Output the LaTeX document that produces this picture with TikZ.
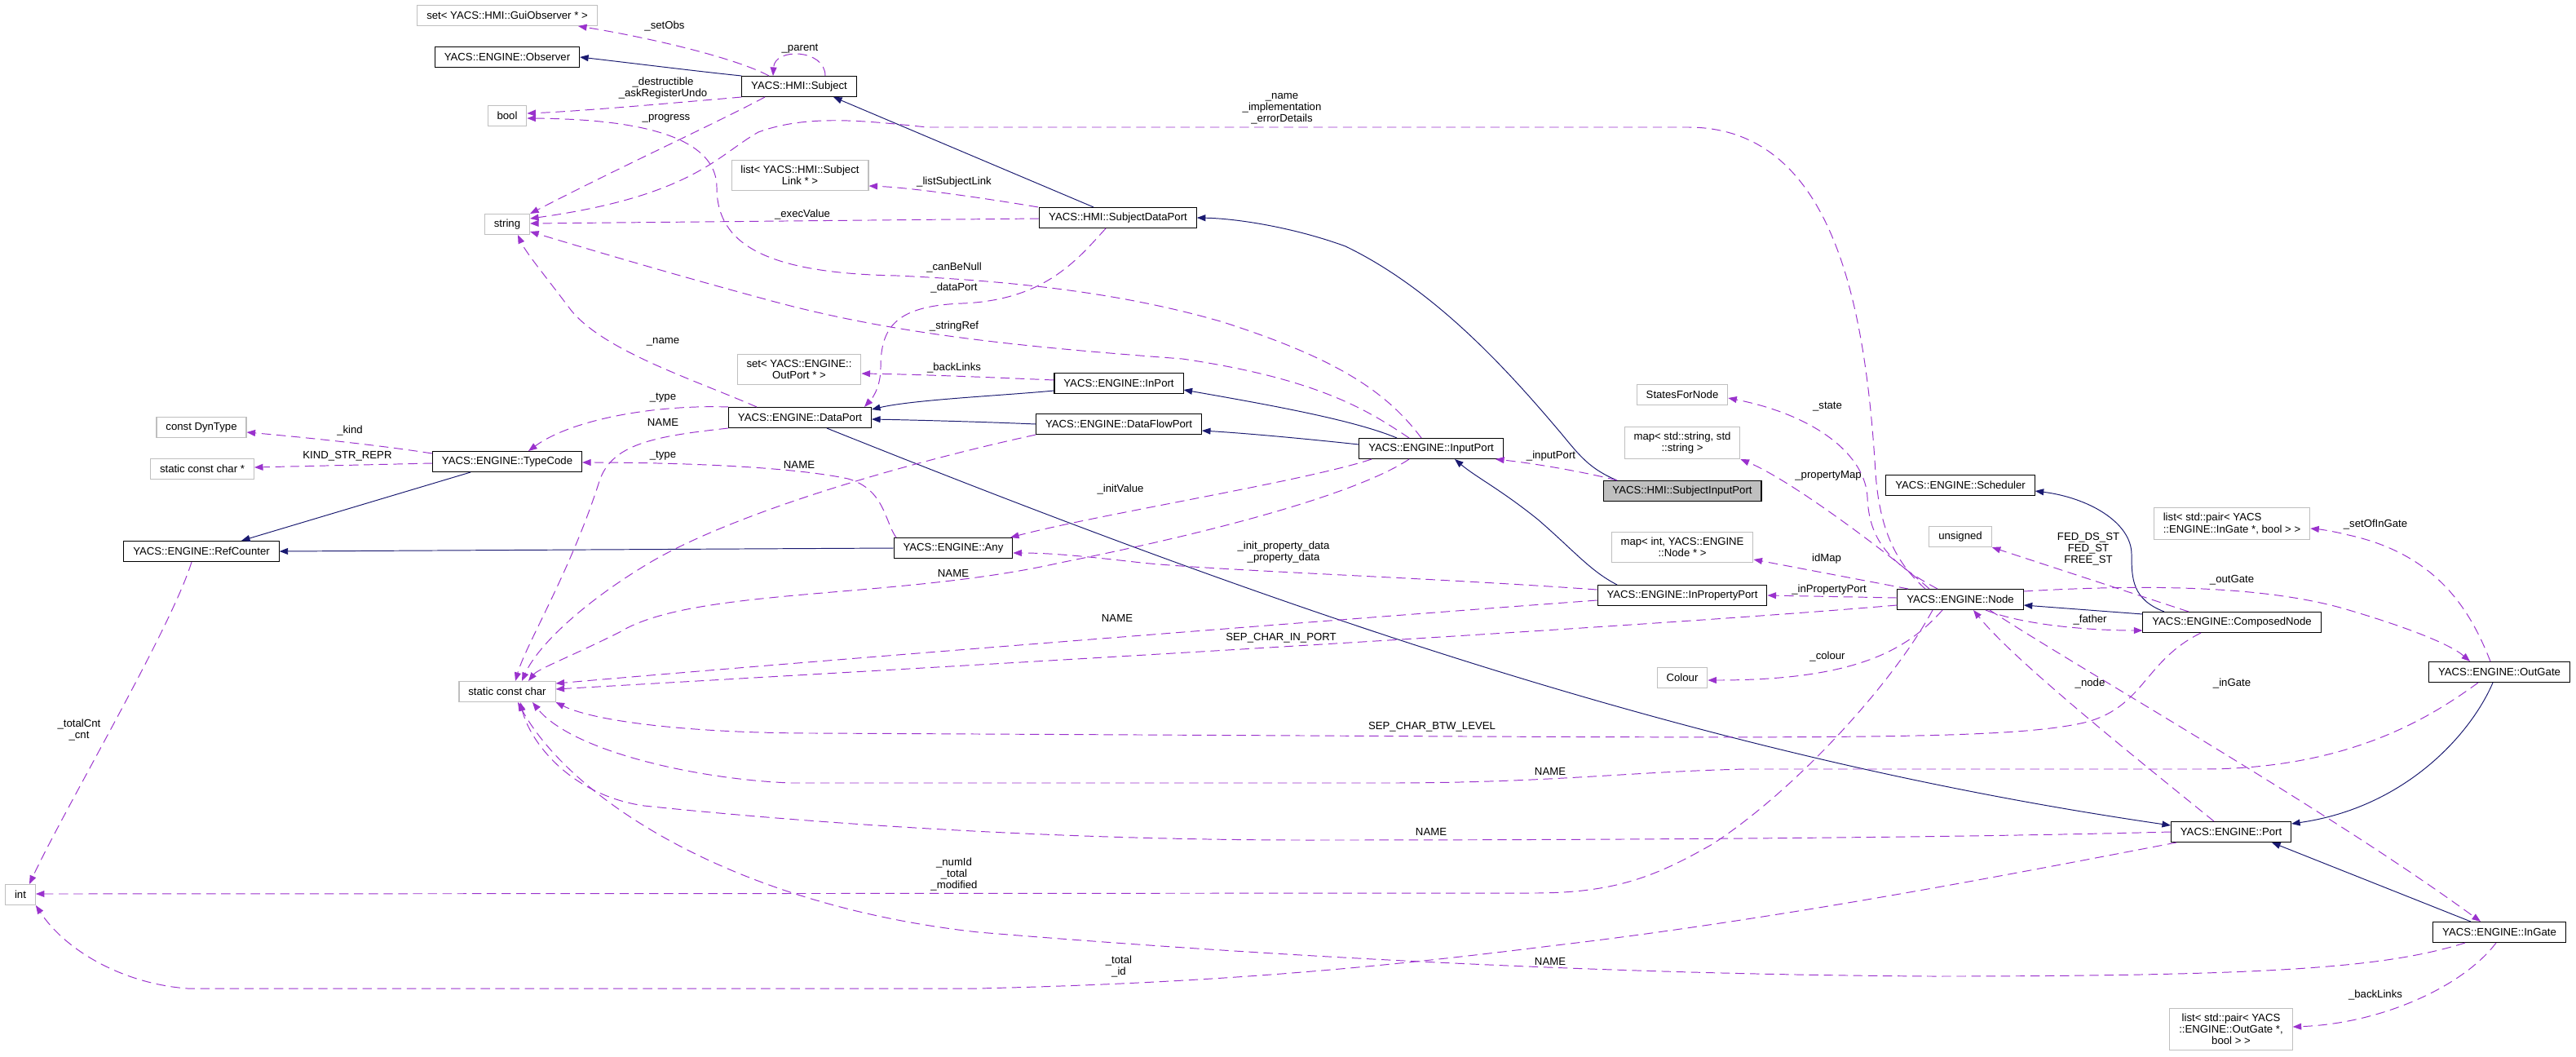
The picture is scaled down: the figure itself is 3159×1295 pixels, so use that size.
\documentclass[tikz,border=0pt]{standalone}
\usepackage{fontspec}
\setmainfont{Liberation Sans}
\usetikzlibrary{arrows.meta}
\definecolor{inherit}{HTML}{191970}
\definecolor{usage}{HTML}{9A32CD}
\definecolor{ghost}{HTML}{BFBFBF}
\definecolor{focus}{HTML}{BFBFBF}
\tikzset{
  font=\fontsize{7.5}{8.1}\selectfont,
  %
  cls/.style={draw=black, line width=0.6pt, fill=white, inner xsep=6.5pt,
              inner ysep=3.6pt, minimum height=0.5cm, align=center, text=black},
  ext/.style={cls, draw=ghost},
  cur/.style={cls, fill=focus},
  %
  inh/.style={draw=inherit, line width=0.55pt, -{Triangle[length=6pt, width=4.5pt]}},
  dep/.style={draw=usage, line width=0.55pt, dash pattern=on 6.5pt off 3.8pt,
              -{Triangle[length=6pt, width=4.5pt]}},
  %
  lbl/.style={inner sep=0pt, align=center, text=black},
}

\begin{document}
\begin{tikzpicture}[x=0.02cm, y=-0.02cm]

  \fill[white] (0,0) rectangle (3159,1295);
  \useasboundingbox (0,0) rectangle (3159,1295);

  % =======================================================================
  % classes and types
  % =======================================================================
  \node[ext] (guiobs)     at (622,19)   {set< YACS::HMI::GuiObserver * >};
  \node[cls] (observer)   at (622,70)   {YACS::ENGINE::Observer};
  \node[ext] (tbool)      at (622,142)  {bool};
  \node[ext] (tstring)    at (622,275)  {string};
  \node[cls] (subject)    at (980,106)  {YACS::HMI::Subject};
  \node[ext] (sublink)    at (981,215)  {list< YACS::HMI::Subject\\Link * >};
  \node[cls] (sdp)        at (1371,267) {YACS::HMI::SubjectDataPort};
  \node[ext] (outportset) at (980,453)  {set< YACS::ENGINE::\\OutPort * >};
  \node[cls] (inport)     at (1372,470) {YACS::ENGINE::InPort};
  \node[cls] (dataport)   at (981,512)  {YACS::ENGINE::DataPort};
  \node[cls] (dataflow)   at (1372,520) {YACS::ENGINE::DataFlowPort};
  \node[cls] (any)        at (1169,672) {YACS::ENGINE::Any};
  \node[ext] (dyntype)    at (247,524)  {const DynType};
  \node[ext] (kindrepr)   at (248,575)  {static const char *};
  \node[cls] (typecode)   at (622,566)  {YACS::ENGINE::TypeCode};
  \node[cls] (refcounter) at (247,676)  {YACS::ENGINE::RefCounter};
  \node[ext] (scc)        at (622,848)  {static const char};
  \node[ext] (tint)       at (25,1097)  {int};
  \node[ext] (states)     at (2063,484) {StatesForNode};
  \node[ext] (propmap)    at (2063,543) {map< std::string, std\\::string >};
  \node[cls] (inputport)  at (1755,550) {YACS::ENGINE::InputPort};
  \node[cur] (sip)        at (2063,602) {YACS::HMI::SubjectInputPort};
  \node[ext] (idmap)      at (2063,671) {map< int, YACS::ENGINE\\::Node * >};
  \node[cls] (inprop)     at (2063,730) {YACS::ENGINE::InPropertyPort};
  \node[ext] (colour)     at (2063,831) {Colour};
  \node[cls] (scheduler)  at (2404,595) {YACS::ENGINE::Scheduler};
  \node[ext] (tunsigned)  at (2404,658) {unsigned};
  \node[cls] (enode)      at (2404,735) {YACS::ENGINE::Node};
  \node[ext, align=left] (ingateset) at (2737,642)
    {list< std::pair< YACS\\::ENGINE::InGate *, bool > >};
  \node[cls] (composed)   at (2737,763) {YACS::ENGINE::ComposedNode};
  \node[cls] (outgate)    at (3065,824) {YACS::ENGINE::OutGate};
  \node[cls] (port)       at (2736,1020) {YACS::ENGINE::Port};
  \node[cls] (ingate)     at (3065,1143) {YACS::ENGINE::InGate};
  \node[ext] (outgatelist) at (2736,1262)
    {list< std::pair< YACS\\::ENGINE::OutGate *,\\bool > >};

  % =======================================================================
  % inheritance
  % =======================================================================
  \draw[inh] (1983,0 |- sip.north) .. controls (1950,575) and (1938,560) .. (1915,532)
    .. controls (1850,455) and (1760,355) .. (1650,302)
    .. controls (1590,280) and (1520,268) .. (sdp.east);
  \draw[inh] (1341,0 |- sdp.north) -- (1022,0 |- subject.south);
  \draw[inh] (subject.north west) .. controls (860,88) and (780,78) .. (observer.east);
  \draw[inh] (1713,0 |- inputport.north) .. controls (1660,515) and (1560,497) .. (inport.east |- 0,478);
  \draw[inh] (inputport.west |- 0,545) .. controls (1620,540) and (1540,532) .. (dataflow.east |- 0,528);
  \draw[inh] (inport.west |- 0,479) .. controls (1230,485) and (1120,490) .. (dataport.east |- 0,502);
  \draw[inh] (dataflow.west) .. controls (1200,517) and (1120,515) .. (dataport.east |- 0,514);
  \draw[inh] (1983,0 |- inprop.north) .. controls (1950,700) and (1930,675) .. (1886,637)
    .. controls (1840,600) and (1810,585) .. (1784,0 |- inputport.south);
  \draw[inh] (577,0 |- typecode.south) -- (296,0 |- refcounter.north);
  \draw[inh] (any.west) -- (refcounter.east |- 0,676);
  \draw[inh] (composed.west |- 0,753) -- (enode.east |- 0,742);
  \draw[inh] (2654,0 |- composed.north) .. controls (2615,735) and (2614,710) .. (2614,680)
    .. controls (2614,640) and (2560,610) .. (scheduler.east |- 0,602);
  \draw[inh] (1014,0 |- dataport.south) .. controls (1600,760) and (2100,930) .. (port.west |- 0,1012);
  \draw[inh] (3057,0 |- outgate.south) .. controls (3030,900) and (2950,990) .. (port.east |- 0,1010);
  \draw[inh] (3030,0 |- ingate.north) -- (2786,0 |- port.south);

  % =======================================================================
  % usage
  % =======================================================================
  \draw[dep] (1983,0 |- sip.north) .. controls (1940,578) and (1880,568) .. (1834,0 |- inputport.south);
  \draw[dep] (1273,0 |- sdp.north) .. controls (1220,245) and (1120,230) .. (sublink.east |- 0,228);
  \draw[dep] (sdp.west |- 0,268) -- (tstring.east |- 0,274);
  \draw[dep] (1356,0 |- sdp.south) .. controls (1320,320) and (1280,368) .. (1180,372)
    .. controls (1100,375) and (1080,400) .. (1080,450)
    .. controls (1080,475) and (1070,488) .. (1060,0 |- dataport.north);
  \draw[dep] (943,0 |- subject.north) .. controls (900,70) and (790,45) .. (709,0 |- guiobs.south);
  \draw[dep] (1012,0 |- subject.north) .. controls (1012,60) and (950,58) .. (948,0 |- subject.north);
  \draw[dep] (subject.south west) .. controls (850,124) and (720,136) .. (tbool.east |- 0,139);
  \draw[dep] (938,0 |- subject.south) .. controls (880,150) and (760,205) .. (tstring.north east);
  \draw[dep] (1743,0 |- inputport.north) .. controls (1700,480) and (1640,440) .. (1500,395)
    .. controls (1380,360) and (1250,345) .. (1100,338)
    .. controls (940,335) and (879,300) .. (879,230)
    .. controls (879,160) and (760,146) .. (tbool.east |- 0,145);
  \draw[dep] (2361,0 |- enode.north) .. controls (2325,690) and (2305,650) .. (2300,580)
    .. controls (2288,380) and (2250,156) .. (2070,156) -- (1137,156)
    .. controls (1060,148) and (990,140) .. (930,162)
    .. controls (880,190) and (850,240) .. (tstring.east |- 0,268);
  \draw[dep] (1728,0 |- inputport.north) .. controls (1680,505) and (1620,465) .. (1450,440)
    .. controls (1250,425) and (1100,410) .. (950,370)
    .. controls (820,335) and (720,305) .. (tstring.east |- 0,284);
  \draw[dep] (928,0 |- dataport.north) .. controls (850,465) and (740,430) .. (700,380)
    .. controls (670,340) and (645,310) .. (635,0 |- tstring.south);
  \draw[dep] (inport.west |- 0,466) .. controls (1200,462) and (1120,459) .. (outportset.east |- 0,458);
  \draw[dep] (dataport.north west) .. controls (800,496) and (700,515) .. (648,0 |- typecode.north);
  \draw[dep] (1099,0 |- any.north) .. controls (1085,640) and (1085,600) .. (1040,587)
    .. controls (960,570) and (800,567) .. (typecode.east |- 0,567);
  \draw[dep] (dataport.south west) .. controls (800,535) and (750,545) .. (735,590)
    .. controls (700,700) and (645,790) .. (632,0 |- scc.north);
  \draw[dep] (dataflow.south west) .. controls (1100,570) and (900,630) .. (800,688)
    .. controls (720,735) and (660,790) .. (640,0 |- scc.north);
  \draw[dep] (1728,0 |- inputport.south) .. controls (1680,595) and (1550,640) .. (1300,690)
    .. controls (1100,735) and (850,720) .. (760,775)
    .. controls (700,805) and (660,820) .. (648,0 |- scc.north);
  \draw[dep] (1682,0 |- inputport.south) .. controls (1600,590) and (1350,630) .. (1239,0 |- any.north);
  \draw[dep] (inprop.west |- 0,723) .. controls (1750,708) and (1500,700) .. (1400,690)
    .. controls (1330,682) and (1290,678) .. (any.east |- 0,678);
  \draw[dep] (inprop.west |- 0,736) .. controls (1700,755) and (1000,810) .. (scc.east |- 0,838);
  \draw[dep] (enode.west |- 0,742) .. controls (2000,770) and (1200,815) .. (scc.east |- 0,845);
  \draw[dep] (enode.west |- 0,733) -- (inprop.east |- 0,730);
  \draw[dep] (2340,0 |- enode.north) -- (idmap.east |- 0,686);
  \draw[dep] (2366,0 |- enode.north) .. controls (2330,690) and (2200,590) .. (propmap.south east);
  \draw[dep] (2376,0 |- enode.north) .. controls (2315,690) and (2292,660) .. (2290,610)
    .. controls (2288,560) and (2230,510) .. (states.east |- 0,488);
  \draw[dep] (2382,0 |- enode.south) .. controls (2340,795) and (2280,834) .. (colour.east |- 0,834);
  \draw[dep] (2435,0 |- enode.south) .. controls (2480,766) and (2560,773) .. (composed.west |- 0,773);
  \draw[dep] (2684,0 |- composed.north) -- (tunsigned.south east);
  \draw[dep] (enode.east |- 0,725) .. controls (2600,718) and (2760,715) .. (2870,745)
    .. controls (2950,768) and (3005,790) .. (3029,0 |- outgate.north);
  \draw[dep] (3054,0 |- outgate.north) .. controls (3030,750) and (2990,680) .. (2880,656)
    .. controls (2860,651) and (2845,649) .. (ingateset.east |- 0,648);
  \draw[dep] (2440,0 |- enode.south) .. controls (2550,820) and (2850,990) .. (3042,0 |- ingate.north);
  \draw[dep] (2715,0 |- port.north) .. controls (2620,930) and (2470,810) .. (2420,0 |- enode.south);
  \draw[dep] (3061,0 |- ingate.south) .. controls (3020,1210) and (2920,1255) .. (outgatelist.east |- 0,1259);
  \draw[dep] (2699,0 |- composed.south) .. controls (2630,810) and (2630,865) .. (2560,885)
    .. controls (2480,905) and (2300,905) .. (1800,903) -- (1000,899)
    .. controls (850,899) and (730,885) .. (scc.south east);
  \draw[dep] (3039,0 |- outgate.south) .. controls (2980,880) and (2880,943) .. (2700,943) -- (2141,943)
    .. controls (2000,946) and (1900,960) .. (1700,960) -- (969,960)
    .. controls (850,955) and (700,920) .. (653,0 |- scc.south);
  \draw[dep] (port.west |- 0,1020) .. controls (2400,1027) and (2000,1030) .. (1600,1030)
    .. controls (1300,1030) and (1000,1010) .. (790,988)
    .. controls (700,975) and (650,910) .. (638,0 |- scc.south);
  \draw[dep] (3023,0 |- ingate.south) .. controls (2930,1185) and (2800,1197) .. (2370,1197)
    .. controls (2000,1195) and (1600,1176) .. (1200,1143)
    .. controls (900,1110) and (700,980) .. (635,0 |- scc.south);
  \draw[dep] (2370,0 |- enode.south) .. controls (2320,840) and (2200,970) .. (2100,1035)
    .. controls (2030,1075) and (1980,1095) .. (1880,1095) -- (tint.east |- 0,1096);
  \draw[dep] (2669,0 |- port.south) .. controls (2500,1065) and (2200,1125) .. (1900,1160)
    .. controls (1700,1185) and (1500,1205) .. (1198,1212) -- (230,1212)
    .. controls (150,1206) and (80,1165) .. (tint.south east);
  \draw[dep] (235,0 |- refcounter.south) .. controls (210,770) and (80,990) .. (36,0 |- tint.north);
  \draw[dep] (typecode.west |- 0,556) .. controls (460,545) and (360,535) .. (dyntype.east |- 0,530);
  \draw[dep] (typecode.west |- 0,568) -- (kindrepr.east |- 0,573);

  % =======================================================================
  % edge labels
  % =======================================================================
  \node[lbl] (lsetobs)     at (815,32)   {\_setObs};
  \node[lbl] (lparent)     at (981,60)   {\_parent};
  \node[lbl] (ldestr)      at (813,108)  {\_destructible\\\_askRegisterUndo};
  \node[lbl] (lprogress)   at (817,145)  {\_progress};
  \node[lbl] (lnameimpl)   at (1572,133) {\_name\\\_implementation\\\_errorDetails};
  \node[lbl] (llistlink)   at (1170,223) {\_listSubjectLink};
  \node[lbl] (lexec)       at (984,263)  {\_execValue};
  \node[lbl] (lcanbenull)  at (1170,328) {\_canBeNull};
  \node[lbl] (ldataport)   at (1170,353) {\_dataPort};
  \node[lbl] (lstringref)  at (1170,400) {\_stringRef};
  \node[lbl] (lname)       at (813,419)  {\_name};
  \node[lbl] (lbacklinks)  at (1170,451) {\_backLinks};
  \node[lbl] (ltype)       at (813,488)  {\_type};
  \node[lbl] (lnamedp)     at (813,518)  {NAME};
  \node[lbl] (ltypeany)    at (813,559)  {\_type};
  \node[lbl] (lnamedf)     at (980,570)  {NAME};
  \node[lbl] (lkind)       at (429,528)  {\_kind};
  \node[lbl] (lkindrepr)   at (426,559)  {KIND\_STR\_REPR};
  \node[lbl] (linitvalue)  at (1374,600) {\_initValue};
  \node[lbl] (linitprop)   at (1574,677) {\_init\_property\_data\\\_property\_data};
  \node[lbl] (lnameip)     at (1169,703) {NAME};
  \node[lbl] (lnameipp)    at (1370,758) {NAME};
  \node[lbl] (lsepport)    at (1571,782) {SEP\_CHAR\_IN\_PORT};
  \node[lbl] (linputport)  at (1902,559) {\_inputPort};
  \node[lbl] (lstate)      at (2241,499) {\_state};
  \node[lbl] (lpropmap)    at (2242,583) {\_propertyMap};
  \node[lbl] (lidmap)      at (2240,685) {idMap};
  \node[lbl] (linprop)     at (2243,723) {\_inPropertyPort};
  \node[lbl] (lcolour)     at (2241,805) {\_colour};
  \node[lbl] (lfed)        at (2561,673) {FED\_DS\_ST\\FED\_ST\\FREE\_ST};
  \node[lbl] (loutgate)    at (2737,711) {\_outGate};
  \node[lbl] (lfather)     at (2563,760) {\_father};
  \node[lbl] (lsetin)      at (2913,643) {\_setOfInGate};
  \node[lbl] (lnode)       at (2563,838) {\_node};
  \node[lbl] (lingate)     at (2737,838) {\_inGate};
  \node[lbl] (lseplevel)   at (1756,891) {SEP\_CHAR\_BTW\_LEVEL};
  \node[lbl] (lnameog)     at (1901,946) {NAME};
  \node[lbl] (lnameport)   at (1755,1020) {NAME};
  \node[lbl] (lnameig)     at (1901,1179) {NAME};
  \node[lbl] (lnumid)      at (1170,1072) {\_numId\\\_total\\\_modified};
  \node[lbl] (ltotalid)    at (1372,1185) {\_total\\\_id};
  \node[lbl] (ltotalcnt)   at (97,895)   {\_totalCnt\\\_cnt};
  \node[lbl] (lbacklinks2) at (2913,1220) {\_backLinks};

\end{tikzpicture}
\end{document}
